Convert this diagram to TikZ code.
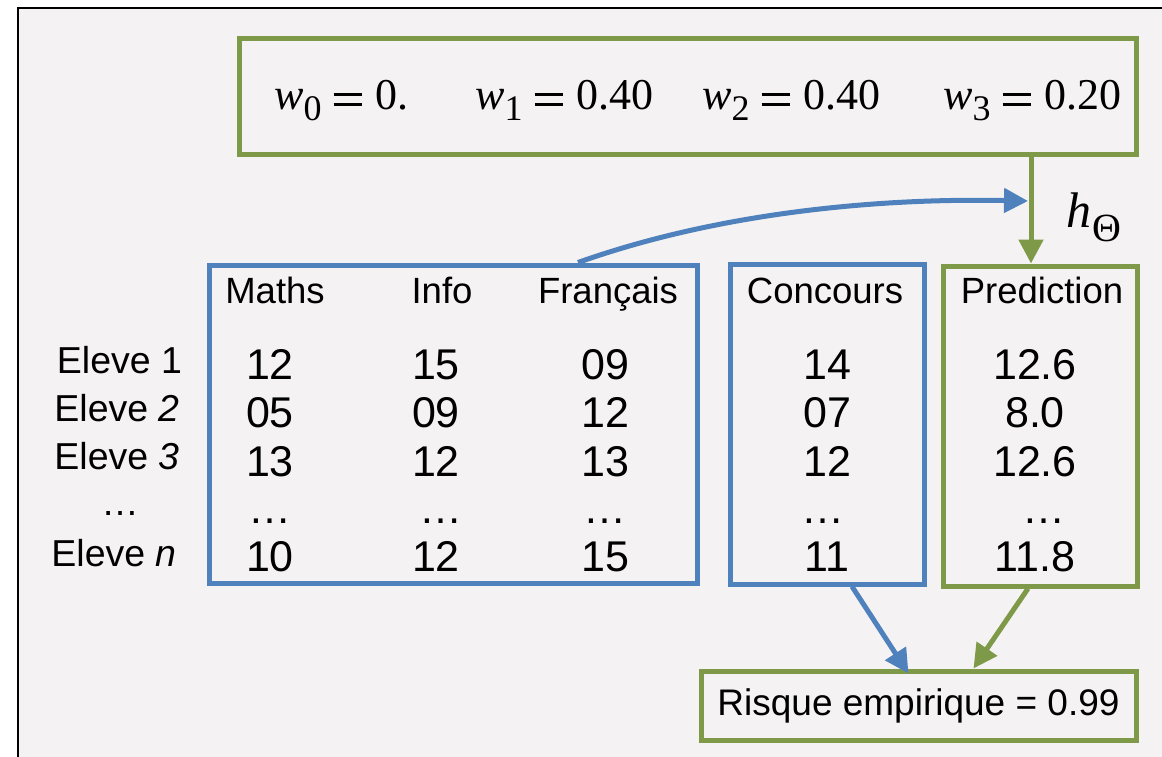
\documentclass[tikz,border=0pt]{standalone}
\usepackage{fontspec}
\setmainfont{Liberation Sans}
\newfontfamily\mathserif{Liberation Serif}
\usetikzlibrary{arrows.meta,shadows,calc}
\definecolor{pagebg}{HTML}{F4F2F3}
\definecolor{grn}{HTML}{7E9A48}
\definecolor{blu}{HTML}{4F81BD}
\newcommand\eqsign{\rlap{\rule[4pt]{28pt}{2.6pt}}\rule[14pt]{28pt}{2.6pt}}
\newcommand\wterm[2]{{\itshape w}\raisebox{-11pt}{\fontsize{36}{36}\selectfont #1}\hspace{12pt}\eqsign\hspace{14pt}#2}
\begin{document}
\begin{tikzpicture}[x=1pt,y=-1pt,
  boxbase/.style={line width=5pt, fill=pagebg, inner sep=0pt,
    drop shadow={shadow xshift=1.5pt, shadow yshift=-2pt, opacity=0.15}},
  gbox/.style={boxbase, draw=grn},
  bbox/.style={boxbase, draw=blu},
  formula/.style={font=\mathserif\fontsize{44}{48}\selectfont, inner sep=0pt, anchor=base west},
  hdr/.style={font=\fontsize{36.5}{40}\selectfont, inner sep=0pt, anchor=base},
  rowlab/.style={font=\fontsize{37.5}{40}\selectfont, inner sep=0pt, anchor=base},
  cell/.style={font=\fontsize{43}{46}\selectfont, inner sep=0pt, anchor=base},
  tipstyle/.style={-{Triangle[length=24pt,width=24pt]}},
  barrow/.style={draw=blu, line width=5pt, tipstyle},
  garrow/.style={draw=grn, line width=5pt, tipstyle},
]
\fill[white] (0,0) rectangle (1162,757);
\useasboundingbox (0,0) rectangle (1162,757);
% outer frame
\node[draw=black, line width=2.5pt, fill=pagebg, inner sep=0pt,
      minimum width=1172pt, minimum height=782pt] (frame) at (604,399) {};
% boxes
\node[gbox, minimum width=897pt, minimum height=116pt] (wbox) at (687.5,97) {};
\node[bbox, minimum width=488pt, minimum height=318pt] (feat) at (453,424) {};
\node[bbox, minimum width=194pt, minimum height=320pt] (conc) at (827,424) {};
\node[gbox, minimum width=194pt, minimum height=320pt] (pred) at (1040,426) {};
\node[gbox, minimum width=435pt, minimum height=69pt,
      font=\fontsize{37}{40}\selectfont] (risk) at (918.5,705.5) {Risque empirique = 0.99};
% weights
\node[formula] (w0) at (274,110) {\wterm{0}{0.}};
\node[formula] (w1) at (475,110) {\wterm{1}{0.40}};
\node[formula] (w2) at (702,110) {\wterm{2}{0.40}};
\node[formula] (w3) at (943,110) {\wterm{3}{0.20}};
% h_Theta
\node[font=\mathserif\fontsize{50}{54}\selectfont, inner sep=0pt, anchor=base west]
  (hth) at (1066,227) {\itshape h\kern1pt\raisebox{-14pt}{\upshape\fontsize{40}{40}\selectfont Θ}};
% headers
\node[hdr] (hm) at (275,303) {Maths};
\node[hdr] (hi) at (442,303) {Info};
\node[hdr] (hf) at (608,303) {Français};
\node[hdr] (hc) at (825,303) {Concours};
\node[hdr] (hp) at (1042,303) {Prediction};
% row labels
\node[rowlab] (e1) at (119.5,373) {Eleve 1};
\node[rowlab] (e2) at (117,421) {Eleve \textit{2}};
\node[rowlab] (e3) at (117,469) {Eleve \textit{3}};
\node[rowlab] (edots) at (120,515) {…};
\node[rowlab] (en) at (114,566) {Eleve \textit{n}};
% cells
\foreach \r/\yb/\a/\b/\c/\d/\e in {1/379/12/15/09/14/12.6, 2/427/05/09/12/07/8.0,
    3/476/13/12/13/12/12.6, n/571/10/12/15/11/11.8} {
  \node[cell] (m\r) at (270,\yb) {\a};
  \node[cell] (i\r) at (436,\yb) {\b};
  \node[cell] (f\r) at (605,\yb) {\c};
  \node[cell] (c\r) at (827,\yb) {\d};
  \node[cell] (p\r) at (1035,\yb) {\e};
}
\node[cell] (mdots) at (270,523) {…};
\node[cell] (idots) at (441,523) {…};
\node[cell] (fdots) at (605,523) {…};
\node[cell] (cdots) at (823,523) {…};
\node[cell] (pdots) at (1044,523) {…};
% connectors
\coordinate (cs) at ($(feat.north)+(125,0)$);
\coordinate (hitpt) at (1028,201);
\draw[barrow] (cs) .. controls (720,212) and (880,198) .. (hitpt);
\draw[garrow] ($(wbox.south)+(343.5,0)$) -- ($(pred.north)+(-9,0)$);
\draw[barrow] ($(conc.south)+(25,0)$) -- ($(risk.north)+(-10,5)$);
\draw[garrow] ($(pred.south)+(-12,0)$) -- ($(risk.north)+(55,0)$);
\end{tikzpicture}
\end{document}
